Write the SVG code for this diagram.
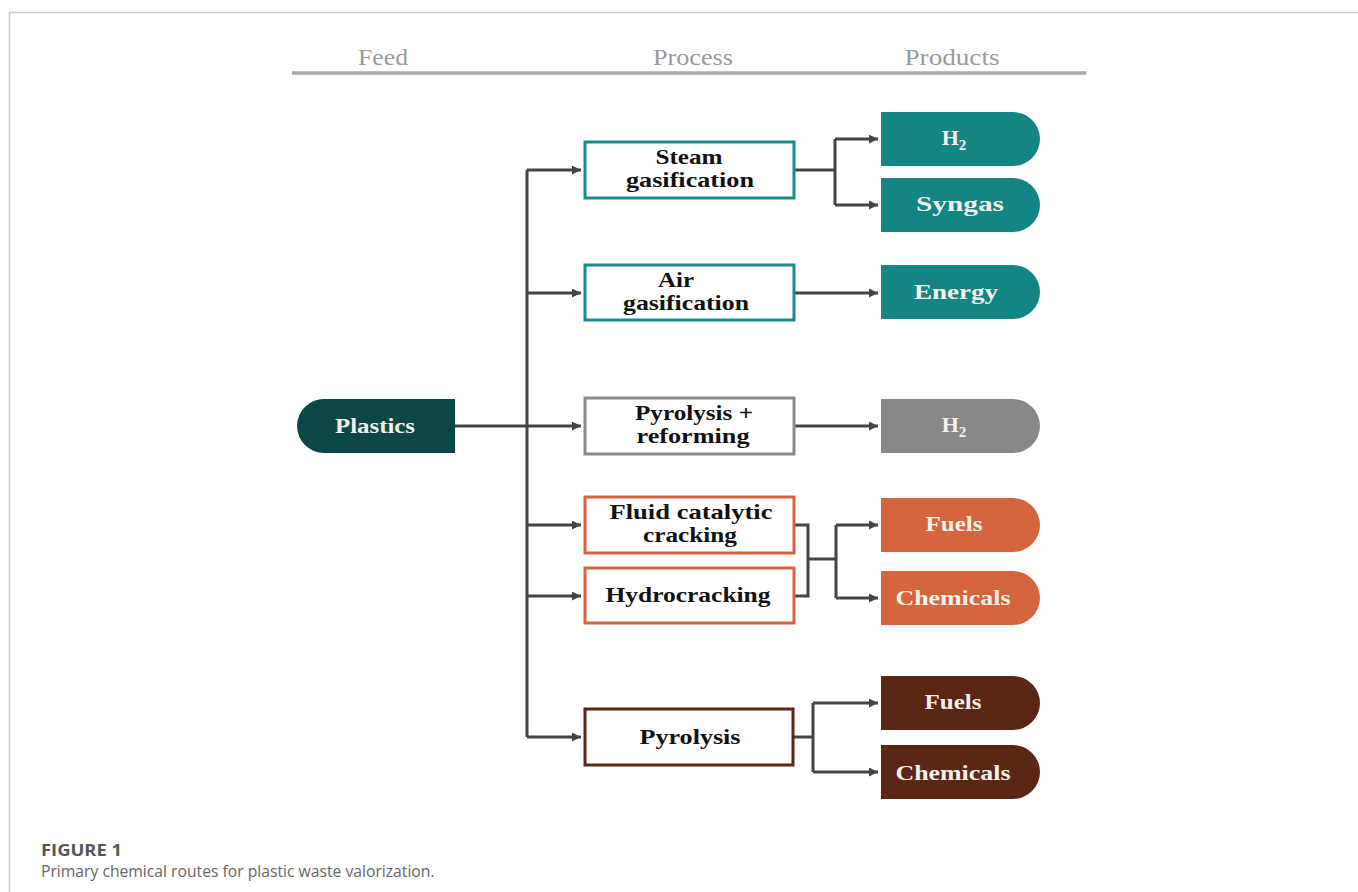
<svg xmlns="http://www.w3.org/2000/svg" width="1358" height="892" viewBox="0 0 1358 892">
<style>
.hdr{font-family:"Liberation Serif",serif;font-size:24px;fill:#9a9a9a;text-anchor:middle}
.box{fill:#fff;stroke-width:3}
.bt{font-family:"Liberation Serif",serif;font-weight:bold;font-size:21.5px;fill:#111;text-anchor:middle}
.pt{font-family:"Liberation Serif",serif;font-weight:bold;font-size:22px;fill:#f4f1ea;text-anchor:middle}
.ln{fill:none;stroke:#444;stroke-width:3}
.cap1{font-family:"Open Sans",sans-serif;font-weight:bold;font-size:16px;fill:#555}
.cap2{font-family:"Open Sans",sans-serif;font-size:15.7px;fill:#666}
</style>
<defs>
<marker id="ah" viewBox="0 0 10 10" refX="10" refY="5" markerWidth="3.2" markerHeight="3" orient="auto" markerUnits="strokeWidth">
<path d="M0,0 L10,5 L0,10 z" fill="#444"/>
</marker>
</defs>
<rect width="1358" height="892" fill="#fff"/>
<path d="M9.5,892 V12.5 H1358" fill="none" stroke="#c8c8c8" stroke-width="1.5"/>
<g id="header">
<text class="hdr" x="383" y="65" textLength="50" lengthAdjust="spacingAndGlyphs">Feed</text>
<text class="hdr" x="693" y="65" textLength="80" lengthAdjust="spacingAndGlyphs">Process</text>
<text class="hdr" x="952" y="65" textLength="95" lengthAdjust="spacingAndGlyphs">Products</text>
<line x1="292" y1="73" x2="1086" y2="73" stroke="#a8a8a8" stroke-width="3.5"/>
</g>
<g id="connectors">
<path class="ln" d="M455,426 H581" marker-end="url(#ah)"/>
<path class="ln" d="M527,737 V170"/>
<path class="ln" d="M527,170 H581" marker-end="url(#ah)"/>
<path class="ln" d="M527,293 H581" marker-end="url(#ah)"/>
<path class="ln" d="M527,525 H581" marker-end="url(#ah)"/>
<path class="ln" d="M527,596 H581" marker-end="url(#ah)"/>
<path class="ln" d="M527,737 H581" marker-end="url(#ah)"/>
<path class="ln" d="M795,170 H835"/>
<path class="ln" d="M835,139 V205"/>
<path class="ln" d="M835,139 H878" marker-end="url(#ah)"/>
<path class="ln" d="M835,205 H878" marker-end="url(#ah)"/>
<path class="ln" d="M795,293 H878" marker-end="url(#ah)"/>
<path class="ln" d="M795,426 H878" marker-end="url(#ah)"/>
<path class="ln" d="M795,525 H808 V596 H795"/>
<path class="ln" d="M808,559 H836"/>
<path class="ln" d="M836,525 V598"/>
<path class="ln" d="M836,525 H878" marker-end="url(#ah)"/>
<path class="ln" d="M836,598 H878" marker-end="url(#ah)"/>
<path class="ln" d="M794,737 H813"/>
<path class="ln" d="M813,703 V772"/>
<path class="ln" d="M813,703 H878" marker-end="url(#ah)"/>
<path class="ln" d="M813,772 H878" marker-end="url(#ah)"/>
</g>
<g id="plastics">
<path d="M324,399 H455 V453 H324 A27,27 0 0 1 324,399 z" fill="#0c4747"/>
<text class="pt" x="375" y="433" textLength="80" lengthAdjust="spacingAndGlyphs">Plastics</text>
</g>
<g id="steam">
<rect class="box" x="585" y="142" width="209" height="56" stroke="#1a8a8a"/>
<text class="bt" x="689" y="164" textLength="67" lengthAdjust="spacingAndGlyphs">Steam</text>
<text class="bt" x="690" y="187" textLength="128" lengthAdjust="spacingAndGlyphs">gasification</text>
</g>
<g id="air">
<rect class="box" x="585" y="265" width="209" height="55" stroke="#1a8a8a"/>
<text class="bt" x="676" y="287" textLength="36" lengthAdjust="spacingAndGlyphs">Air</text>
<text class="bt" x="686" y="310" textLength="126" lengthAdjust="spacingAndGlyphs">gasification</text>
</g>
<g id="pyref">
<rect class="box" x="585" y="398" width="209" height="56" stroke="#8a8a8a"/>
<text class="bt" x="694" y="420" textLength="118" lengthAdjust="spacingAndGlyphs">Pyrolysis +</text>
<text class="bt" x="693" y="443" textLength="113" lengthAdjust="spacingAndGlyphs">reforming</text>
</g>
<g id="fcc">
<rect class="box" x="585" y="497" width="209" height="56" stroke="#d4653d"/>
<text class="bt" x="691" y="519" textLength="163" lengthAdjust="spacingAndGlyphs">Fluid  catalytic</text>
<text class="bt" x="690" y="542" textLength="94" lengthAdjust="spacingAndGlyphs">cracking</text>
</g>
<g id="hydro">
<rect class="box" x="585" y="568" width="209" height="55" stroke="#d4653d"/>
<text class="bt" x="688" y="602" textLength="165" lengthAdjust="spacingAndGlyphs">Hydrocracking</text>
</g>
<g id="pyro">
<rect class="box" x="585" y="709" width="208" height="56" stroke="#5a2616"/>
<text class="bt" x="690" y="744" textLength="101" lengthAdjust="spacingAndGlyphs">Pyrolysis</text>
</g>
<g id="h2a">
<path d="M881,112 H1013 A27,27 0 0 1 1013,166 H881 z" fill="#138585"/>
<text class="pt" x="954" y="145" font-size="23">H<tspan font-size="15" dy="5">2</tspan></text>
</g>
<g id="syngas">
<path d="M881,178 H1013 A27,27 0 0 1 1013,232 H881 z" fill="#138585"/>
<text class="pt" x="960" y="211" textLength="88" lengthAdjust="spacingAndGlyphs">Syngas</text>
</g>
<g id="energy">
<path d="M881,265 H1013 A27,27 0 0 1 1013,319 H881 z" fill="#138585"/>
<text class="pt" x="956" y="299" textLength="84" lengthAdjust="spacingAndGlyphs">Energy</text>
</g>
<g id="h2b">
<path d="M881,399 H1013 A27,27 0 0 1 1013,453 H881 z" fill="#888888"/>
<text class="pt" x="954" y="432" font-size="23">H<tspan font-size="15" dy="5">2</tspan></text>
</g>
<g id="fuels1">
<path d="M881,498 H1013 A27,27 0 0 1 1013,552 H881 z" fill="#d5653e"/>
<text class="pt" x="954" y="531" textLength="57" lengthAdjust="spacingAndGlyphs">Fuels</text>
</g>
<g id="chem1">
<path d="M881,571 H1013 A27,27 0 0 1 1013,625 H881 z" fill="#d5653e"/>
<text class="pt" x="953" y="605" textLength="115" lengthAdjust="spacingAndGlyphs">Chemicals</text>
</g>
<g id="fuels2">
<path d="M881,676 H1013 A27,27 0 0 1 1013,730 H881 z" fill="#5b2614"/>
<text class="pt" x="953" y="709" textLength="57" lengthAdjust="spacingAndGlyphs">Fuels</text>
</g>
<g id="chem2">
<path d="M881,745 H1013 A27,27 0 0 1 1013,799 H881 z" fill="#5b2614"/>
<text class="pt" x="953" y="780" textLength="115" lengthAdjust="spacingAndGlyphs">Chemicals</text>
</g>
<g id="caption">
<text class="cap1" x="41" y="856" textLength="81" lengthAdjust="spacingAndGlyphs">FIGURE 1</text>
<text class="cap2" x="41" y="877">Primary chemical routes for plastic waste valorization.</text>
</g>
</svg>
